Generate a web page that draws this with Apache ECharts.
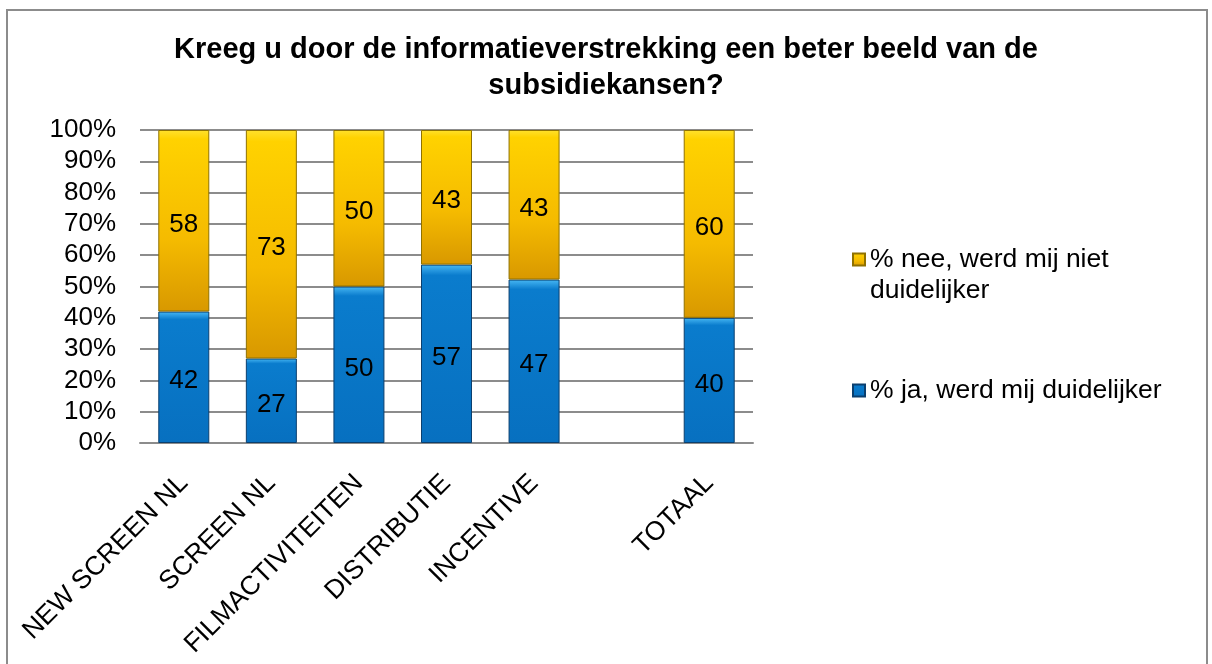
<!DOCTYPE html>
<html>
<head>
<meta charset="utf-8">
<script src="https://cdn.jsdelivr.net/npm/echarts@6/dist/echarts.min.js"></script>
<style>
html,body{margin:0;padding:0;background:#fff;}
#chart{width:1212px;height:664px;}
</style>
</head>
<body>
<div id="chart"></div>
<script>
const titleText = 'Kreeg u door de informatieverstrekking een beter beeld van de\nsubsidiekansen?';
const categories = ['NEW SCREEN NL', 'SCREEN NL', 'FILMACTIVITEITEN', 'DISTRIBUTIE', 'INCENTIVE', '', 'TOTAAL'];
const jaValues  = [42, 27, 50, 57, 47, null, 40];
const neeValues = [58, 73, 50, 43, 43, null, 60];
const jaName  = '% ja, werd mij duidelijker';
const neeName = '% nee, werd mij niet duidelijker';
const yTicks = [0, 10, 20, 30, 40, 50, 60, 70, 80, 90, 100];

// 100% stacked: each bar normalised to its own total
function share(arr, i) {
  const a = jaValues[i], b = neeValues[i];
  if (a == null || b == null) return null;
  return arr[i] / (a + b) * 100;
}
const jaShare  = jaValues.map((v, i) => share(jaValues, i));
const neeShare = neeValues.map((v, i) => share(neeValues, i));

const FONT = '"Liberation Sans", Arial, sans-serif';
const chart = echarts.init(document.getElementById('chart'));

const gold = new echarts.graphic.LinearGradient(0, 0, 0, 1, [
  {offset: 0, color: '#ffe12e'},
  {offset: 0.05, color: '#ffd200'},
  {offset: 0.6, color: '#f5bb00'},
  {offset: 1, color: '#d89800'}
]);
const blue = new echarts.graphic.LinearGradient(0, 0, 0, 1, [
  {offset: 0, color: '#48b8f4'},
  {offset: 0.06, color: '#0a7ccd'},
  {offset: 1, color: '#0770c0'}
]);

chart.setOption({
  animation: false,
  backgroundColor: '#ffffff',
  title: {
    text: titleText,
    left: 'center',
    top: 27,
    textStyle: {fontFamily: FONT, fontSize: 29, fontWeight: 'bold', color: '#000', lineHeight: 36}
  },
  legend: {
    orient: 'vertical',
    left: 847,
    top: 208,
    itemGap: 69,
    itemWidth: 12,
    itemHeight: 12,
    icon: 'rect',
    data: [neeName, jaName],
    formatter: function (name) {
      if (name === neeName) return '\n% nee, werd mij niet\nduidelijker';
      return name;
    },
    textStyle: {fontFamily: FONT, fontSize: 26.5, color: '#000', lineHeight: 31}
  },
  grid: {left: 140, right: 459, top: 130, bottom: 221, containLabel: false},
  xAxis: {
    type: 'category',
    data: categories,
    axisTick: {show: false},
    axisLine: {show: true, lineStyle: {color: '#8c8c8c', width: 2}},
    axisLabel: {
      interval: 0,
      rotate: 45,
      margin: 36,
      padding: [20, 0, 0, 0],
      fontFamily: FONT,
      fontSize: 26.5,
      color: '#000'
    }
  },
  yAxis: {
    type: 'value',
    min: 0,
    max: 100,
    interval: 10,
    axisLine: {show: false},
    axisTick: {show: false},
    axisLabel: {
      formatter: function (v) { return yTicks.indexOf(v) >= 0 ? v + '%' : ''; },
      margin: 24,
      fontFamily: FONT,
      fontSize: 26,
      color: '#000'
    },
    splitLine: {lineStyle: {color: '#8c8c8c', width: 2}}
  },
  series: [
    {
      name: jaName,
      type: 'bar',
      stack: 'total',
      barWidth: 51,
      data: jaShare,
      itemStyle: {color: blue, borderColor: '#0b3f6e', borderWidth: 1},
      label: {
        show: true,
        position: 'inside',
        offset: [0, 4],
        formatter: function (p) { return jaValues[p.dataIndex]; },
        fontFamily: FONT, fontSize: 26, color: '#000'
      }
    },
    {
      name: neeName,
      type: 'bar',
      stack: 'total',
      barWidth: 51,
      data: neeShare,
      itemStyle: {color: gold, borderColor: '#8f7100', borderWidth: 1},
      label: {
        show: true,
        position: 'inside',
        offset: [0, 4],
        formatter: function (p) { return neeValues[p.dataIndex]; },
        fontFamily: FONT, fontSize: 26, color: '#000'
      }
    }
  ],
  graphic: [{
    type: 'rect',
    shape: {x: 7, y: 10, width: 1200, height: 662},
    style: {fill: 'none', stroke: '#8c8c8c', lineWidth: 2},
    silent: true
  }]
});
</script>
</body>
</html>
